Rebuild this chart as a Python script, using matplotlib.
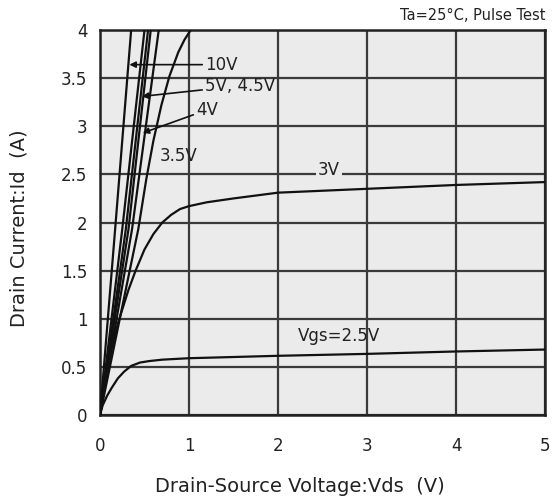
import matplotlib
matplotlib.use("Agg")
import matplotlib.pyplot as plt

plt.rcParams['font.family'] = ['DejaVu Sans']

# Data (Vds in V, Id in A)
vgs_labels = ["10V", "unlabeled", "5V", "4.5V", "4V", "3.5V", "3V", "2.5V"]

vds_10 = [0, 0.17, 0.35]
id_10 = [0, 1.93, 4.0]

vds_un = [0, 0.25, 0.50]
id_un = [0, 1.93, 4.0]

vds_5 = [0, 0.29, 0.54]
id_5 = [0, 1.93, 4.0]

vds_45 = [0, 0.32, 0.57]
id_45 = [0, 1.93, 4.0]

vds_4 = [0, 0.36, 0.66]
id_4 = [0, 1.93, 4.0]

vds_35 = [0, 0.1, 0.2, 0.3, 0.43, 0.52, 0.6, 0.69, 0.78, 0.88, 0.95, 1.02]
id_35 = [0, 0.45, 0.9, 1.35, 1.93, 2.45, 2.85, 3.22, 3.52, 3.77, 3.9, 4.0]

vds_3 = [0, 0.05, 0.13, 0.2, 0.32, 0.4, 0.5, 0.6, 0.7, 0.8, 0.9, 1.0, 1.2,
         1.5, 2.0, 3.0, 4.0, 5.0]
id_3 = [0, 0.27, 0.68, 0.95, 1.30, 1.5, 1.72, 1.88, 2.0, 2.08, 2.14, 2.17,
        2.21, 2.25, 2.31, 2.35, 2.39, 2.42]

vds_25 = [0, 0.03, 0.08, 0.13, 0.2, 0.27, 0.35, 0.45, 0.55, 0.7, 1.0, 2.0,
          3.0, 4.0, 5.0]
id_25 = [0, 0.1, 0.2, 0.28, 0.38, 0.45, 0.51, 0.545, 0.56, 0.575, 0.59,
         0.615, 0.635, 0.66, 0.68]

xticks = [0, 1, 2, 3, 4, 5]
yticks = [0, 0.5, 1, 1.5, 2, 2.5, 3, 3.5, 4]
ytick_labels = ["0", "0.5", "1", "1.5", "2", "2.5", "3", "3.5", "4"]

W, H = 552, 503
fig = plt.figure(figsize=(W/100, H/100), dpi=100)
ax = fig.add_axes([100/W, 1-415/H, 445/W, 385/H])
ax.set_facecolor('#ebebeb')

series = [(vds_10, id_10), (vds_un, id_un), (vds_5, id_5), (vds_45, id_45),
          (vds_4, id_4), (vds_35, id_35), (vds_3, id_3), (vds_25, id_25)]
for x, y in series:
    ax.plot(x, y, color='#111111', lw=1.6, solid_capstyle='round',
            solid_joinstyle='round', zorder=3)

ax.set_xlim(0, 5)
ax.set_ylim(0, 4)
ax.set_xticks(xticks)
ax.set_yticks(yticks)
ax.set_yticklabels(ytick_labels)
ax.tick_params(length=0, labelsize=12, colors='#222222')
ax.tick_params(axis='x', pad=16)
ax.tick_params(axis='y', pad=9)
ax.grid(True, color='#3a3a3a', lw=1.6, zorder=1)
ax.set_axisbelow(True)
for s in ax.spines.values():
    s.set_linewidth(1.8)
    s.set_color('#222222')

fig.text(300/W, 1-492/H, "Drain-Source Voltage:Vds  (V)", ha='center',
         va='baseline', fontsize=14, color='#222222')
fig.text(19/W, 1-228/H, "Drain Current:Id  (A)", ha='center', va='center',
         rotation=90, fontsize=14, color='#222222')

fig.text(545/W, 1-15/H, "Ta=25°C, Pulse Test", ha='right', va='center',
         fontsize=10.5, color='#222222')

ann_kw = dict(fontsize=12, color='#222222')
arrow = dict(arrowstyle='-|>', color='#111111', lw=1.2, mutation_scale=9,
             shrinkA=0, shrinkB=0)
ax.annotate("10V", xy=(0.33, 3.64), xytext=(1.18, 3.64), va='center', ha='left',
            arrowprops=arrow, **ann_kw)
ax.annotate("5V, 4.5V", xy=(0.47, 3.31), xytext=(1.18, 3.42), va='center',
            ha='left', arrowprops=arrow, **ann_kw)
ax.annotate("4V", xy=(0.48, 2.93), xytext=(1.08, 3.17), va='center', ha='left',
            arrowprops=arrow, **ann_kw)
ax.text(0.67, 2.69, "3.5V", va='center', ha='left', **ann_kw)
ax.text(2.45, 2.55, "3V", va='center', ha='left',
        bbox=dict(facecolor='#ebebeb', edgecolor='none', pad=1.5), zorder=4, **ann_kw)
ax.text(2.22, 0.82, "Vgs=2.5V", va='center', ha='left', **ann_kw)

fig.savefig("out.png", dpi=100)
